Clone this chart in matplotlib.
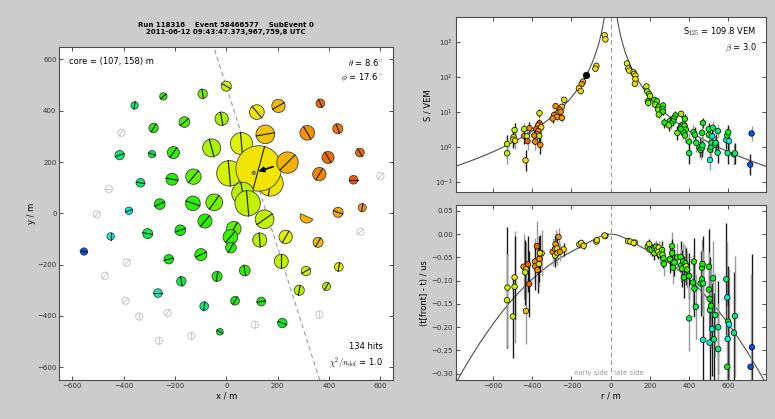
import numpy as np
import matplotlib
matplotlib.use('Agg')
import matplotlib.pyplot as plt
from matplotlib.patches import Circle, Wedge
import matplotlib.transforms as mtransforms

plt.rcParams['font.family'] = ['DejaVu Sans']
plt.rcParams['mathtext.fontset'] = 'cm'

# event header
run_id = 118316
event_id = 58466577
sub_event = 0
event_time = '2011-06-12 09:43:47.373,967,759,8 UTC'
core_x, core_y = 107, 158
theta_deg, phi_deg = 8.6, 17.6
n_hits = 134
chi2_ndof = 1.0
s125 = 109.8
beta = 3.0

# hit stations: position (m), charge (VEM), relative time (0 early .. 1 late), tank-pair orientation (deg)
st_x = [0, -92, -245, -357, -283, -163, -18, 119, 203, 366, 434, 315, 152, 59, -57, -206, -289, -415,
        520, 396, 12, 172, 126, 238, 362, 495, -128, -211, -334, 64, 83, -47, -130, -259, -379, -83,
        149, 435, 529, -450, -306, -179, -554, 29, 16, 18, 130, 231, 357, -224, -99, 214, 72, -36,
        -175, 310, 438, -266, 284, 390, -86, 34, 136, 218, -25]
st_y = [496, 466, 456, 421, 333, 356, 369, 395, 419, 429, 330, 314, 308, 272, 255, 237, 231, 227,
        237, 218, 156, 117, 175, 198, 153, 131, 143, 133, 119, 78, 39, 43, 39, 36, 10, -30,
        -23, 4, 22, -90, -79, -66, -149, -60, -92, -134, -104, -92, -113, -179, -161, -187, -223, -246,
        -265, -225, -209, -311, -300, -285, -362, -341, -344, -428, -462]
st_sig = [8.1, 6.1, 2.3, 2.3, 6.1, 10.4, 25, 37, 25, 4.5, 8.1, 37, 97, 189, 84, 16.7, 2.3, 6.1,
          4.5, 16.7, 332, 332, 3400, 166, 25, 4.5, 44.5, 16.7, 4.5, 189, 332, 62, 37, 10.4, 2.3, 31,
          97, 8.1, 3.3, 2.3, 8.1, 10.4, 2.3, 37, 37, 10.4, 31, 25, 8.1, 6.1, 16.7, 31, 10.4, 8.1,
          6.1, 6.1, 4.5, 4.5, 8.1, 3.3, 4.5, 4.5, 4.5, 6.1, 1.6]
st_t = [0.23, 0.33, 0.42, 0.60, 0.42, 0.38, 0.27, 0.17, 0.12, 0.03, 0.04, 0.07, 0.13, 0.21, 0.27, 0.42, 0.55, 0.60,
        0.02, 0.03, 0.22, 0.17, 0.17, 0.11, 0.06, 0.00, 0.35, 0.43, 0.58, 0.25, 0.24, 0.33, 0.42, 0.45, 0.72, 0.42,
        0.24, 0.10, 0.08, 0.75, 0.55, 0.45, 0.93, 0.36, 0.40, 0.42, 0.25, 0.20, 0.12, 0.48, 0.42, 0.24, 0.42, 0.44,
        0.55, 0.23, 0.20, 0.68, 0.25, 0.25, 0.60, 0.45, 0.45, 0.48, 0.55]
st_ang = [150, 100, 40, 80, 60, 40, 100, 130, 30, 115, 110, 120, 10, 95, 105, 55, 160, 20,
          120, 120, 95, 80, 75, 45, 60, 0, 50, 170, 170, 100, 95, 55, 160, 25, 20, 50,
          35, 160, 80, 90, 170, 20, 170, 60, 50, 60, 95, 60, 60, 15, 25, 90, 100, 80,
          100, 30, 80, 0, 80, 60, 80, 60, 10, 160, 150]

# station with only one tank hit
half_x, half_y, half_sig, half_t, half_ang = 313, -12, 25, 0.11, 155

# stations without signal
off_x = [-408, -457, -504, 600, 522, -387, -472, -392, -339, -228, -136, -262, 111, 362]
off_y = [314, 95, -4, 145, -72, -192, -244, -341, -402, -388, -478, -497, -434, -395]
off_ang = [55, 0, 50, 45, 45, 45, 45, 45, 90, 60, 90, 90, 90, 90]

# tank signals vs. signed distance to the axis
sig_r = [-31, -27, -73, -78, -141, -148, -162, -153, -237, -281,
         -249, -260, -269, -255, -288, -274, -296, -249, -363, -363,
         -369, -354, -414, -380, -369, -376, -390, -441, -441, -427,
         -364, -385, -359, -424, -490, -495, -497, -487, -528, -528, -434,
         83, 90, 95, 116, 119, 126, 126, 123, 182, 187,
         196, 201, 189, 192, 223, 235, 226, 245, 242, 267,
         264, 265, 245, 330, 322, 301, 318, 274, 308, 296,
         359, 378, 362, 357, 376, 383, 368, 340, 379, 357,
         400, 400, 422, 429, 436, 453, 458, 465, 468, 470,
         466, 500, 500, 507, 511, 514, 521, 517, 531, 535,
         506, 545, 546, 589, 594, 599, 603, 596, 628, 633, 718, 711]
sig_s = [1540, 1170, 205, 170, 73, 62, 47, 39, 22, 14.5,
         13.8, 11.5, 9.3, 10, 8.1, 7.2, 6.4, 6.7, 9.1, 4.7,
         4.1, 3.6, 3.4, 3.2, 2.8, 2.3, 2.1, 3.2, 2.05, 2.0,
         2.05, 1.4, 1.13, 1.45, 3.0, 1.9, 1.6, 1.5, 1.2, 0.65, 0.41,
         240, 173, 150, 135, 120, 107, 86, 63, 53, 38,
         32, 28, 20, 18, 22, 20, 16, 14, 11.5, 15,
         12, 10.1, 8.3, 7.8, 6.4, 5.4, 5.3, 4.9, 4.6, 4.1,
         8.7, 6.3, 4.1, 3.6, 4.0, 3.1, 2.7, 2.5, 2.1, 3.2,
         1.4, 0.66, 2.6, 2.2, 1.3, 0.96, 0.81, 0.93, 1.1, 4.8,
         2.5, 3.2, 2.2, 0.83, 1.0, 1.3, 3.5, 2.0, 1.15, 1.3,
         0.42, 0.68, 2.8, 1.55, 2.1, 2.6, 1.45, 0.66, 0.61, 0.65, 2.4, 0.31]
sig_err = [0.04, 0.04, 0.05, 0.05, 0.06, 0.06, 0.07, 0.07, 0.08, 0.10,
           0.10, 0.10, 0.10, 0.10, 0.12, 0.12, 0.12, 0.12, 0.12, 0.15,
           0.15, 0.18, 0.18, 0.18, 0.20, 0.20, 0.22, 0.18, 0.22, 0.22,
           0.22, 0.25, 0.25, 0.25, 0.20, 0.22, 0.25, 0.25, 0.25, 0.30, 0.30,
           0.05, 0.05, 0.05, 0.05, 0.05, 0.05, 0.06, 0.06, 0.06, 0.07,
           0.07, 0.07, 0.08, 0.08, 0.08, 0.08, 0.09, 0.09, 0.10, 0.09,
           0.10, 0.10, 0.12, 0.12, 0.12, 0.14, 0.14, 0.14, 0.15, 0.15,
           0.12, 0.13, 0.15, 0.16, 0.15, 0.18, 0.20, 0.20, 0.22, 0.18,
           0.25, 0.30, 0.20, 0.22, 0.25, 0.27, 0.28, 0.27, 0.26, 0.15,
           0.20, 0.18, 0.22, 0.28, 0.27, 0.25, 0.18, 0.22, 0.26, 0.25,
           0.30, 0.30, 0.20, 0.25, 0.22, 0.20, 0.25, 0.30, 0.30, 0.30, 0.22, 0.30]
sig_t = [0.17, 0.17, 0.16, 0.16, 0.12, 0.08, 0.15, 0.16, 0.16, 0.07,
         0.15, 0.07, 0.10, 0.06, 0.06, 0.07, 0.06, 0.08, 0.23, 0.02,
         0.05, 0.17, 0.06, 0.02, 0.05, 0.06, 0.05, 0.24, 0.06, 0.24,
         0.25, 0.05, 0.07, 0.02, 0.24, 0.25, 0.17, 0.16, 0.25, 0.24, 0.15,
         0.22, 0.18, 0.20, 0.17, 0.17, 0.20, 0.17, 0.16, 0.24, 0.30,
         0.32, 0.26, 0.40, 0.34, 0.38, 0.40, 0.32, 0.40, 0.32, 0.40,
         0.42, 0.42, 0.33, 0.42, 0.44, 0.43, 0.42, 0.44, 0.42, 0.34,
         0.27, 0.42, 0.42, 0.44, 0.40, 0.42, 0.44, 0.34, 0.42, 0.45,
         0.45, 0.55, 0.45, 0.47, 0.55, 0.46, 0.47, 0.55, 0.56, 0.46,
         0.45, 0.56, 0.46, 0.47, 0.55, 0.58, 0.58, 0.72, 0.60, 0.58,
         0.72, 0.60, 0.58, 0.70, 0.47, 0.46, 0.75, 0.60, 0.60, 0.58, 0.93, 0.93]

# tank time residuals vs. signed distance (us)
tim_r = [-526, -529, -499, -490, -490, -432, -415, -444, -422, -431,
         -436, -386, -385, -376, -373, -366, -363, -352, -361, -296,
         -284, -281, -274, -266, -283, -272, -240, -259, -160, -150,
         -138, -73, -70, -27, -31,
         89, 100, 123, 117, 189, 196, 199, 209, 223, 223,
         230, 237, 245, 243, 250, 262, 264, 269, 271, 301,
         313, 313, 318, 325, 339, 356, 359, 364, 369, 373,
         381, 385, 390, 400, 400, 424, 419, 427, 434, 458,
         465, 468, 465, 471, 471, 500, 500, 504, 506, 504,
         512, 517, 521, 526, 533, 548, 548, 589, 594, 599,
         603, 596, 594, 628, 633, 720, 713]
tim_dt = [-0.115, -0.142, -0.177, -0.113, -0.093, -0.165, -0.107, -0.070, -0.065, -0.076,
          -0.082, -0.059, -0.069, -0.026, -0.077, -0.064, -0.053, -0.041, -0.041, -0.038,
          -0.032, -0.022, -0.031, -0.006, -0.046, -0.041, -0.033, -0.038, -0.022, -0.019,
          -0.025, -0.016, -0.013, -0.004, -0.003,
          -0.015, -0.016, -0.018, -0.019, -0.026, -0.021, -0.033, -0.034, -0.031, -0.041,
          -0.027, -0.034, -0.029, -0.038, -0.044, -0.034, -0.044, -0.052, -0.064, -0.054,
          -0.026, -0.041, -0.072, -0.061, -0.050, -0.049, -0.067, -0.074, -0.059, -0.093,
          -0.063, -0.069, -0.076, -0.090, -0.181, -0.059, -0.104, -0.117, -0.156, -0.106,
          -0.072, -0.064, -0.097, -0.227, -0.106, -0.070, -0.119, -0.139, -0.163, -0.233,
          -0.154, -0.204, -0.095, -0.226, -0.174, -0.200, -0.247, -0.097, -0.136, -0.188,
          -0.194, -0.225, -0.285, -0.212, -0.176, -0.243, -0.285]
tim_err = [0.13, 0.10, 0.09, 0.12, 0.09, 0.07, 0.07, 0.07, 0.06, 0.06,
           0.07, 0.05, 0.05, 0.055, 0.05, 0.05, 0.05, 0.05, 0.04, 0.03,
           0.03, 0.03, 0.025, 0.02, 0.025, 0.025, 0.015, 0.02, 0.008, 0.008,
           0.008, 0.005, 0.005, 0.004, 0.004,
           0.005, 0.005, 0.006, 0.006, 0.01, 0.01, 0.012, 0.012, 0.015, 0.015,
           0.015, 0.015, 0.015, 0.015, 0.02, 0.02, 0.02, 0.02, 0.025, 0.03,
           0.03, 0.03, 0.035, 0.03, 0.03, 0.035, 0.035, 0.04, 0.04, 0.045,
           0.04, 0.04, 0.04, 0.05, 0.07, 0.05, 0.06, 0.06, 0.07, 0.07,
           0.06, 0.06, 0.07, 0.10, 0.07, 0.08, 0.08, 0.09, 0.09, 0.10,
           0.09, 0.10, 0.08, 0.10, 0.09, 0.10, 0.10, 0.12, 0.12, 0.12,
           0.12, 0.13, 0.13, 0.13, 0.13, 0.20, 0.20]
tim_t = [0.24, 0.24, 0.25, 0.25, 0.17, 0.13, 0.02, 0.06, 0.02, 0.17,
         0.24, 0.06, 0.05, 0.02, 0.06, 0.16, 0.07, 0.23, 0.17, 0.07,
         0.07, 0.08, 0.16, 0.08, 0.23, 0.12, 0.16, 0.07, 0.17, 0.16,
         0.16, 0.16, 0.16, 0.17, 0.17,
         0.22, 0.18, 0.17, 0.20, 0.30, 0.24, 0.32, 0.33, 0.38, 0.33,
         0.40, 0.26, 0.20, 0.19, 0.32, 0.40, 0.33, 0.42, 0.42, 0.42,
         0.44, 0.42, 0.43, 0.42, 0.42, 0.40, 0.44, 0.42, 0.44, 0.45,
         0.42, 0.27, 0.42, 0.45, 0.55, 0.45, 0.46, 0.47, 0.56, 0.46,
         0.46, 0.45, 0.47, 0.72, 0.55, 0.46, 0.46, 0.47, 0.55, 0.72,
         0.47, 0.72, 0.56, 0.60, 0.58, 0.60, 0.60, 0.58, 0.70, 0.47,
         0.75, 0.72, 0.46, 0.60, 0.58, 0.93, 0.93]


def tcolor(t):
    c = plt.cm.hsv(0.06 + 0.6 * np.asarray(t))
    c = np.array(c, dtype=float)
    c[..., :3] *= 0.95
    return c


def radius(s):
    return 11.6 * s ** 0.25


fig = plt.figure(figsize=(7.75, 4.19), dpi=100, facecolor='#cccccc')
ax = fig.add_axes([0.0765, 0.0931, 0.431, 0.7955])
ax_s = fig.add_axes([0.588, 0.541, 0.4, 0.4177])
ax_t = fig.add_axes([0.588, 0.0924, 0.4, 0.4177])

for a in (ax, ax_s, ax_t):
    a.tick_params(direction='in', top=True, right=True, length=3, width=0.6,
                  labelsize=5, pad=2, colors='0.2')
    for sp in a.spines.values():
        sp.set_linewidth(0.8)
        sp.set_color('0.3')

# ---------------- array map ----------------
for x, y, a in zip(off_x, off_y, off_ang):
    r = 14
    ax.add_patch(Circle((x, y), r, facecolor='white', edgecolor='0.8', lw=0.8, zorder=2))
    dx, dy = r * np.cos(np.radians(a)), r * np.sin(np.radians(a))
    ax.plot([x - dx, x + dx], [y - dy, y + dy], color='0.8', lw=0.8, zorder=2)

cols = tcolor(st_t)
for x, y, s, c, a in zip(st_x, st_y, st_sig, cols, st_ang):
    r = radius(s)
    ax.add_patch(Circle((x, y), r, facecolor=c, edgecolor='0.25', lw=0.6, zorder=3))
    dx, dy = r * np.cos(np.radians(a)), r * np.sin(np.radians(a))
    ax.plot([x - dx, x + dx], [y - dy, y + dy], color='0.1', lw=0.8, zorder=3)

r = radius(half_sig)
ax.add_patch(Wedge((half_x, half_y), r, half_ang, half_ang + 180, facecolor=tcolor(half_t),
                   edgecolor='0.25', lw=0.6, zorder=3))

# shower front line through the core and direction arrow
phi = np.radians(phi_deg)
u = np.linspace(-1000, 1000, 2)
ax.plot(core_x - np.sin(phi) * u, core_y + np.cos(phi) * u, color='0.6', lw=0.8,
        ls=(0, (4, 3)), zorder=2)
ax.add_patch(Circle((core_x, core_y), 9, facecolor='0.5', edgecolor='none', zorder=5))
L = 600 * np.sin(np.radians(theta_deg))
ax.annotate('', xy=(core_x + 8 * np.cos(phi), core_y + 8 * np.sin(phi)),
            xytext=(core_x + L * np.cos(phi), core_y + L * np.sin(phi)),
            arrowprops=dict(arrowstyle='-|>', color='k', lw=1.2, mutation_scale=8), zorder=6)

ax.set_xlim(-650, 650)
ax.set_ylim(-650, 650)
ax.set_xticks(np.arange(-600, 601, 200))
ax.set_yticks(np.arange(-600, 601, 200))
ax.set_xlabel('x / m', fontsize=6, labelpad=2)
ax.set_ylabel('y / m', fontsize=6, labelpad=1)
ax.set_title('Run %d    Event %d    SubEvent %d\n%s' % (run_id, event_id, sub_event, event_time),
             fontsize=5, fontweight='bold', pad=9, linespacing=1.3)
ax.text(0.03, 0.97, 'core = (%d, %d) m' % (core_x, core_y), transform=ax.transAxes,
        fontsize=6, va='top', ha='left')
ax.text(0.97, 0.97, r'$\theta$ = %.1f$^\circ$' % theta_deg + '\n' + r'$\phi$ = %.1f$^\circ$' % phi_deg,
        transform=ax.transAxes, fontsize=6, va='top', ha='right', linespacing=1.4)
ax.text(0.97, 0.03, '%d hits\n' % n_hits + r'$\chi^2/n_\mathrm{dof}$ = %.1f' % chi2_ndof,
        transform=ax.transAxes, fontsize=6, va='bottom', ha='right', linespacing=1.4)

# ---------------- lateral distribution ----------------
rr = np.linspace(1, 800, 800)
xx = np.log10(rr / 125.0)
ldf = 10 ** (np.log10(s125) - beta * xx - 0.303 * xx ** 2)
ax_s.plot(rr, ldf, color='0.3', lw=0.8)
ax_s.plot(-rr, ldf, color='0.3', lw=0.8)
ax_s.axvline(0, color='0.6', lw=0.8, ls=(0, (4, 3)))

sig_s_a = np.array(sig_s)
sig_e_a = np.array(sig_err)
ecols = ['0.1' if i % 2 == 0 else '0.6' for i in range(len(sig_r))]
ax_s.vlines(sig_r, sig_s_a * 10 ** (-sig_e_a), sig_s_a * 10 ** sig_e_a, colors=ecols, lw=1.0, zorder=2)
ax_s.scatter(sig_r, sig_s, s=16, c=tcolor(sig_t), edgecolors='k', linewidths=0.5, zorder=3)
ax_s.scatter([-125], [s125], s=22, c='k', edgecolors='k', linewidths=0.5, zorder=4)
ax_s.set_yscale('log')
ax_s.set_ylim(0.05, 5000)
ax_s.set_xlim(-790, 790)
ax_s.set_xticks(np.arange(-600, 601, 200))
ax_s.set_yticks([0.1, 1, 10, 100, 1000])
ax_s.minorticks_off()
ax_s.tick_params(labelbottom=False)
ax_s.set_ylabel('S / VEM', fontsize=6, labelpad=2)
ax_s.text(0.97, 0.95, r'S$_{125}$ = %.1f VEM' % s125 + '\n' + r'$\beta$ = %.1f' % beta,
          transform=ax_s.transAxes, fontsize=6, va='top', ha='right', linespacing=1.4)

# ---------------- time residuals ----------------
curv = (4.823e-4 * rr ** 2 + 19.41 * (1 - np.exp(-rr ** 2 / (2 * 83.5 ** 2)))) / 1000.0
rfull = np.concatenate([-rr[::-1], [0], rr])
cfull = np.concatenate([-curv[::-1], [0], -curv])
ax_t.plot(rfull, cfull, color='0.3', lw=0.8)
ax_t.axvline(0, color='0.6', lw=0.8, ls=(0, (4, 3)))

tim_dt_a = np.array(tim_dt)
tim_e_a = np.array(tim_err)
ecols = ['0.1' if i % 2 == 0 else '0.6' for i in range(len(tim_r))]
ax_t.vlines(tim_r, tim_dt_a - tim_e_a, tim_dt_a + tim_e_a, colors=ecols, lw=1.0, zorder=2)
ax_t.scatter(tim_r, tim_dt, s=16, c=tcolor(tim_t), edgecolors='k', linewidths=0.5, zorder=3)
ax_t.set_xlim(-790, 790)
ax_t.set_ylim(-0.314, 0.062)
ax_t.set_xticks(np.arange(-600, 601, 200))
ax_t.set_yticks(np.arange(-0.30, 0.051, 0.05))
ax_t.set_xlabel('r / m', fontsize=6, labelpad=2)
ax_t.set_ylabel('(t[front] - t) / us', fontsize=6, labelpad=2)
trans = mtransforms.blended_transform_factory(ax_t.transData, ax_t.transAxes)
ax_t.text(-15, 0.025, 'early side', transform=trans, fontsize=5, color='0.6', ha='right', va='bottom')
ax_t.text(15, 0.025, 'late side', transform=trans, fontsize=5, color='0.6', ha='left', va='bottom')

fig.savefig('out.png', dpi=100, facecolor=fig.get_facecolor())
